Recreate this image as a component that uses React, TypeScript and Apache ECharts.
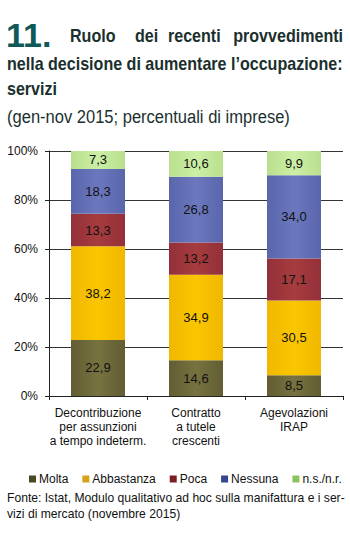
import React, { useEffect, useRef } from "react";
import * as echarts from "echarts";

const categories = [
  "Decontribuzione\nper assunzioni\na tempo indeterm.",
  "Contratto\na tutele\ncrescenti",
  "Agevolazioni\nIRAP",
];
const seriesNames = ["Molta", "Abbastanza", "Poca", "Nessuna", "n.s./n.r."];
const molta = [22.9, 14.6, 8.5];
const abbastanza = [38.2, 34.9, 30.5];
const poca = [13.3, 13.2, 17.1];
const nessuna = [18.3, 26.8, 34.0];
const nsnr = [7.3, 10.6, 9.9];
const yTicks = [0, 20, 40, 60, 80, 100];

const barColors = [
  ["#625d33", "#77723f"],
  ["#f0b800", "#fac600"],
  ["#94303a", "#a63c3e"],
  ["#5a66ab", "#6b78bd"],
  ["#b9df8e", "#cbefa5"],
];
const legendColors = ["#4a4726", "#d6a21a", "#7a1f22", "#34468f", "#8cc25e"];

const FF = "'Liberation Sans', Arial, sans-serif";

function measure(text: string, font: string): number {
  const c = document.createElement("canvas");
  const ctx = c.getContext("2d");
  if (!ctx) return text.length * 8;
  ctx.font = font;
  return ctx.measureText(text).width;
}

export default function App() {
  const ref = useRef<HTMLDivElement>(null);
  useEffect(() => {
    if (!ref.current) return;
    const chart = echarts.init(ref.current, null, { renderer: "svg" });
    const values = [molta, abbastanza, poca, nessuna, nsnr];
    const series = seriesNames.map((name, i) => ({
      name,
      type: "bar",
      stack: "all",
      barWidth: 54,
      data: values[i],
      itemStyle: {
        color: new echarts.graphic.LinearGradient(0, 0, 1, 0, [
          { offset: 0, color: barColors[i][0] },
          { offset: 0.5, color: barColors[i][1] },
          { offset: 1, color: barColors[i][0] },
        ]),
      },
      label: {
        show: true,
        position: "inside",
        color: "#111",
        fontFamily: FF,
        fontSize: 13,
        formatter: (p: any) => p.value.toFixed(1).replace(".", ","),
      },
    }));
    const titleColor = "#1b302e";
    const tFont = `bold 18px ${FF}`;
    const line2 = "nella decisione di aumentare l\u2019occupazione:";
    const sT = 336 / measure(line2, tFont);
    const subFont = `19px ${FF}`;
    const sub = "(gen-nov 2015; percentuali di imprese)";
    const sS = 283 / measure(sub, subFont);
    const fFont = `13px ${FF}`;
    const foot1 = "Fonte: Istat, Modulo qualitativo ad hoc sulla manifattura e i ser-";
    const sF = 338 / measure(foot1, fFont);
    const word = (text: string, x: number, y: number, font: string, s: number, align = "left", fill = titleColor) => ({
      type: "text",
      x,
      y,
      scaleX: s,
      style: { text, x: 0, y: 0, font, fill, textAlign: align, textVerticalAlign: "middle" },
    });
    chart.setOption({
      animation: false,
      grid: { left: 49, right: 7, top: 151, bottom: 149 },
      xAxis: {
        type: "category",
        data: categories,
        axisLine: { lineStyle: { color: "#222", width: 1 } },
        axisTick: { show: true, length: 4, lineStyle: { color: "#222" } },
        axisLabel: {
          interval: 0,
          color: "#111",
          fontFamily: FF,
          fontSize: 12,
          lineHeight: 14,
          margin: 10,
        },
      },
      yAxis: {
        type: "value",
        min: 0,
        max: 100,
        interval: 20,
        axisLine: { show: true, lineStyle: { color: "#222" } },
        axisTick: { show: true, length: 4, lineStyle: { color: "#222" } },
        splitLine: { lineStyle: { color: "#333", width: 1 } },
        axisLabel: {
          color: "#111",
          fontFamily: FF,
          fontSize: 12,
          margin: 11,
          formatter: (v: number) => (yTicks.includes(v) ? v + "%" : ""),
        },
      },
      legend: {
        top: 468,
        left: 24,
        itemWidth: 7,
        itemHeight: 7,
        itemGap: 14,
        icon: "rect",
        textStyle: { fontFamily: FF, fontSize: 12, color: "#111", padding: [0, 0, 0, -2] },
        data: seriesNames.map((n, i) => ({ name: n, itemStyle: { color: legendColors[i] } })),
      },
      graphic: [
        { type: "text", left: 6, top: 18, style: { text: "11.", font: `bold 34px ${FF}`, fill: "#0f5a58" } },
        word("Ruolo", 70, 36, tFont, sT),
        word("dei", 135, 36, tFont, sT),
        word("recenti", 168, 36, tFont, sT),
        word("provvedimenti", 343, 36, tFont, sT, "right"),
        word(line2, 7, 64, tFont, sT),
        word("servizi", 7, 89, tFont, sT),
        word(sub, 7, 117, subFont, sS),
        word(foot1, 7, 498, fFont, sF, "left", "#111"),
        word("vizi di mercato (novembre 2015)", 7, 514, fFont, sF, "left", "#111"),
      ],
      series,
    });
    return () => chart.dispose();
  }, []);
  return <div ref={ref} style={{ width: 350, height: 545, position: "absolute", left: 0, top: 0 }} />;
}
